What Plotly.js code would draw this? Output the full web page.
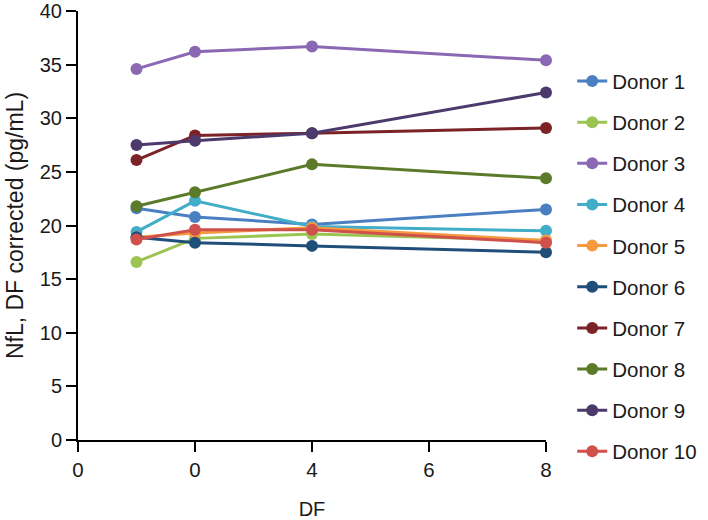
<!DOCTYPE html>
<html>
<head>
<meta charset="utf-8">
<script src="https://cdn.plot.ly/plotly-3.0.1.min.js"></script>
<style>html,body{margin:0;padding:0;background:#fff;}#chart{width:708px;height:520px;}</style>
</head>
<body>
<div id="chart"></div>
<script>
const dilution = [1, 2, 4, 8];
const tickValues = [0, 2, 4, 6, 8];
const tickLabels = ["0", "0", "4", "6", "8"];
const donorNames = ["Donor 1","Donor 2","Donor 3","Donor 4","Donor 5","Donor 6","Donor 7","Donor 8","Donor 9","Donor 10"];
const donor1 = [21.6, 20.8, 20.1, 21.5];
const donor2 = [16.6, 18.8, 19.2, 18.6];
const donor3 = [34.6, 36.2, 36.7, 35.4];
const donor4 = [19.4, 22.3, 19.9, 19.5];
const donor5 = [18.9, 19.3, 19.8, 18.6];
const donor6 = [18.9, 18.4, 18.1, 17.5];
const donor7 = [26.1, 28.4, 28.6, 29.1];
const donor8 = [21.8, 23.1, 25.7, 24.4];
const donor9 = [27.5, 27.9, 28.6, 32.4];
const donor10 = [18.7, 19.6, 19.6, 18.4];
const donorColors = ["#4a7fc1","#9bc453","#8a68b3","#41adc9","#f59a3e","#1f4e79","#7b2326","#5b7a2a","#4b3a6b","#d0504c"];

const series = [donor1, donor2, donor3, donor4, donor5, donor6, donor7, donor8, donor9, donor10];
const font = "Liberation Sans, Arial, sans-serif";
const traces = series.map((vals, i) => ({
  type: "scatter",
  mode: "lines+markers",
  x: dilution,
  y: vals,
  name: donorNames[i],
  legendgroup: "g" + i,
  cliponaxis: false,
  line: {color: donorColors[i], width: 3},
  marker: {color: donorColors[i], size: 12}
}));

const layout = {
  width: 708, height: 520,
  paper_bgcolor: "#fff", plot_bgcolor: "#fff",
  margin: {l: 78, r: 162, t: 11, b: 80, autoexpand: false},
  font: {family: font, size: 20, color: "#1a1a1a"},
  showlegend: true,
  legend: {x: 1.056, xanchor: "left", y: 0.883, yanchor: "top", tracegroupgap: 11.5, maxheight: 1,
           font: {family: font, size: 20.5, color: "#1a1a1a"}, bgcolor: "rgba(0,0,0,0)"},
  xaxis: {
    range: [0, 8], tickmode: "array", tickvals: tickValues, ticktext: tickLabels,
    showgrid: false, zeroline: false, showline: true, linecolor: "#000", linewidth: 2,
    ticks: "outside", ticklen: 10, tickwidth: 2, tickcolor: "#000",
    tickfont: {family: font, size: 20.5, color: "#1a1a1a"},
    title: {text: "DF", font: {family: font, size: 20, color: "#1a1a1a"}, standoff: 26}
  },
  yaxis: {
    range: [0, 40], dtick: 5,
    showgrid: false, zeroline: false, showline: true, linecolor: "#000", linewidth: 2,
    ticks: "outside", ticklen: 10, tickwidth: 2, tickcolor: "#000",
    tickfont: {family: font, size: 20, color: "#1a1a1a"},
    title: {text: "NfL, DF corrected (pg/mL)", font: {family: font, size: 23, color: "#1a1a1a"}, standoff: 10}
  }
};
Plotly.newPlot("chart", traces, layout, {displayModeBar: false, responsive: false});
</script>
</body>
</html>
